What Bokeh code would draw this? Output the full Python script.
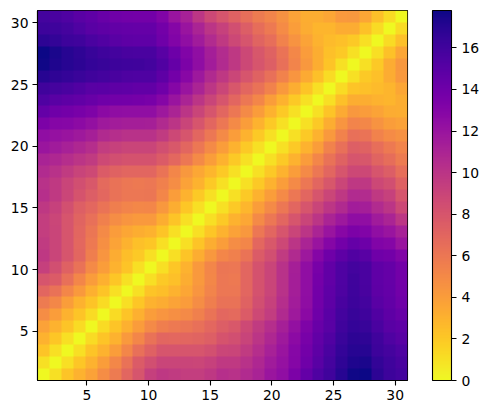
from bokeh.plotting import figure
from bokeh.models import LinearColorMapper, ColorBar, FixedTicker
from bokeh.palettes import Plasma256
from bokeh.embed import file_html
from bokeh.resources import INLINE
import numpy as np

# lower triangle of the symmetric matrix, row r holds columns 1..r
row01 = [0]
row02 = [1, 0]
row03 = [2.2, 1.1, 0]
row04 = [3, 2.1, 1.1, 0]
row05 = [3.8, 3, 2.2, 1.2, 0]
row06 = [4.8, 4, 3, 2.2, 1.2, 0]
row07 = [5.8, 5.1, 4, 3, 2.2, 1.2, 0]
row08 = [7, 6.3, 5.2, 4.2, 3.1, 2.2, 1.1, 0]
row09 = [8, 7.6, 6.4, 5.2, 4.1, 3.1, 2.1, 1, 0]
row10 = [9.3, 8.4, 7.3, 6.3, 5, 4, 3, 2.2, 1.1, 0]
row11 = [9.8, 9, 8, 7, 5.6, 4.4, 3.3, 2.5, 2, 1.1, 0]
row12 = [9.6, 9, 8, 6.9, 5.9, 4.7, 3.7, 3, 2.4, 2.1, 1.1, 0]
row13 = [9.4, 9, 8, 7, 6.1, 5, 4.1, 3.6, 3.2, 3, 2.2, 1.1, 0]
row14 = [9.4, 8.9, 8, 7.1, 6.4, 5.5, 4.8, 4.4, 4.2, 4.2, 3.2, 2.2, 1.1, 0]
row15 = [9.8, 9.2, 8.3, 7.4, 6.9, 6.2, 5.6, 5.3, 5.1, 5.2, 4.3, 3.2, 2.1, 1.1, 0]
row16 = [10.3, 9.7, 8.9, 8.1, 7.5, 6.9, 6.3, 6, 6, 6.1, 5.2, 4, 3, 2, 1, 0]
row17 = [10.2, 9.7, 9, 8.4, 7.8, 6.8, 6.3, 6, 5.9, 6, 5.5, 4.8, 3.8, 3, 2, 1, 0]
row18 = [10.6, 10.2, 9.6, 9.1, 8.7, 7.6, 7.2, 7, 7, 7, 6.2, 5.2, 4.3, 3.5, 2.8, 2, 1, 0]
row19 = [11.1, 10.8, 10.4, 10, 9.6, 8.7, 8.4, 8.2, 8.2, 8.2, 7.6, 6.9, 6, 5, 4, 3, 2, 1, 0]
row20 = [11.9, 11.6, 11.2, 10.8, 10.4, 9.5, 9.2, 9, 9, 9, 8.4, 7.8, 7, 6, 5, 4, 3, 2, 1, 0]
row21 = [12.4, 12.2, 12, 11.7, 11.3, 10.7, 10.4, 10.2, 10.2, 10.2, 9.6, 8.8, 8, 7, 6, 5, 4, 3, 2, 1, 0]
row22 = [13.4, 13, 12.9, 12.6, 12.3, 11.7, 11.5, 11.4, 11.4, 11.3, 10.7, 10, 9, 8, 7, 6, 5, 4, 3, 2, 1, 0]
row23 = [14.5, 14, 13.8, 13.6, 13.3, 12.7, 12.5, 12.4, 12.4, 12.4, 11.8, 11, 10, 9, 8, 7, 6, 5, 4.1, 3, 2, 1, 0]
row24 = [15.4, 15, 14.8, 14.6, 14.3, 14, 13.9, 13.8, 13.7, 13.6, 13, 12, 11, 10, 9, 8, 7, 6, 5.2, 4, 3, 2, 1, 0]
row25 = [16, 15.8, 15.6, 15.3, 15, 14.9, 14.8, 14.7, 14.6, 14.6, 14, 13, 12, 11, 9.9, 8.9, 7.9, 7, 6.3, 5.4, 4.2, 3.2, 2.2, 1.1, 0]
row26 = [17, 16.7, 16.5, 16.3, 16, 15.9, 15.7, 15.5, 15.4, 15.4, 14.8, 13.8, 12.8, 11.8, 10.7, 9.8, 8.9, 8, 7.2, 6.4, 5.4, 4.4, 3.4, 2.4, 1.2, 0]
row27 = [17.7, 17.3, 17, 16.8, 16.5, 16.4, 16.2, 16.1, 16, 15.9, 15.3, 14.4, 13.4, 12.5, 11.5, 10.6, 9.8, 8.8, 8, 7.4, 6.4, 5.3, 4.3, 3.2, 2.2, 1, 0]
row28 = [17.8, 17.4, 17, 16.7, 16.4, 16.1, 15.9, 15.7, 15.6, 15.6, 15, 14.1, 13.2, 12.4, 11.4, 10.5, 9.8, 8.8, 7.9, 7.2, 6.2, 5.1, 4.1, 3.2, 2.4, 2, 1, 0]
row29 = [16.8, 16.6, 16.2, 16, 15.6, 15.3, 15, 14.8, 14.7, 14.7, 14, 13.2, 12.4, 11.6, 10.6, 9.7, 8.8, 8, 7.1, 6.5, 5.4, 4.5, 3.7, 3, 2.6, 2.4, 2, 1.1, 0]
row30 = [16.2, 16.1, 15.8, 15.4, 15, 14.8, 14.6, 14.5, 14.4, 14.4, 13.8, 13, 12, 11, 10, 9.2, 8.4, 7.5, 6.6, 5.9, 4.9, 4, 3.3, 2.9, 2.9, 3.3, 3.3, 2.3, 1.2, 0]
row31 = [15.9, 15.7, 15.4, 15, 14.7, 14.3, 14, 13.9, 13.8, 13.8, 13.2, 12, 11.2, 9.9, 8.8, 8, 7.3, 6.5, 5.8, 5.3, 4.6, 3.8, 3.2, 3.2, 3.6, 4.2, 4.3, 3.6, 2.4, 1.2, 0]

rows = [row01, row02, row03, row04, row05, row06, row07, row08, row09, row10,
        row11, row12, row13, row14, row15, row16, row17, row18, row19, row20,
        row21, row22, row23, row24, row25, row26, row27, row28, row29, row30, row31]
tick_values = [5, 10, 15, 20, 25, 30]
bar_ticks = [0, 2, 4, 6, 8, 10, 12, 14, 16]
vmin, vmax = 0, 17.8

n = len(rows)
M = np.zeros((n, n))
for i, r in enumerate(rows):
    for j, v in enumerate(r):
        M[i, j] = v
        M[j, i] = v

mapper = LinearColorMapper(palette=list(Plasma256)[::-1], low=vmin, high=vmax)

p = figure(frame_width=370, frame_height=370, width=484, height=405,
           x_range=(1, 31), y_range=(1, 31), output_backend="svg",
           toolbar_location=None, min_border_left=37, min_border_top=10,
           min_border_bottom=25, min_border_right=0)
p.image(image=[M], x=1, y=1, dw=30, dh=30, color_mapper=mapper)
p.grid.visible = False

for ax in (p.xaxis[0], p.yaxis[0]):
    ax.ticker = FixedTicker(ticks=tick_values)
    ax.major_tick_in = 0
    ax.major_tick_out = 5
    ax.minor_tick_line_color = None
    ax.major_label_text_font = "DejaVu Sans"
    ax.major_label_text_font_size = "13.9px"
    ax.major_label_text_color = "#000000"
    ax.axis_line_color = "#000000"
    ax.major_tick_line_color = "#000000"
    ax.axis_line_width = 1.1
    ax.major_tick_line_width = 1.1
p.outline_line_color = "#000000"
p.outline_line_width = 1.1
p.outline_line_alpha = 1
p.xaxis[0].major_label_standoff = 4
p.yaxis[0].major_label_standoff = 4

cb = ColorBar(color_mapper=mapper, ticker=FixedTicker(ticks=bar_ticks),
              width=19, height=370, padding=0, margin=0, location=(25, 0),
              major_tick_in=0, major_tick_out=5,
              major_tick_line_color="#000000", major_tick_line_width=1.1,
              minor_tick_line_color=None,
              bar_line_color="#000000", bar_line_width=1.1,
              major_label_text_font="DejaVu Sans",
              major_label_text_font_size="13.9px",
              major_label_text_color="#000000",
              label_standoff=5)
p.add_layout(cb, "right")

open("out.html", "w").write(file_html(p, INLINE))
